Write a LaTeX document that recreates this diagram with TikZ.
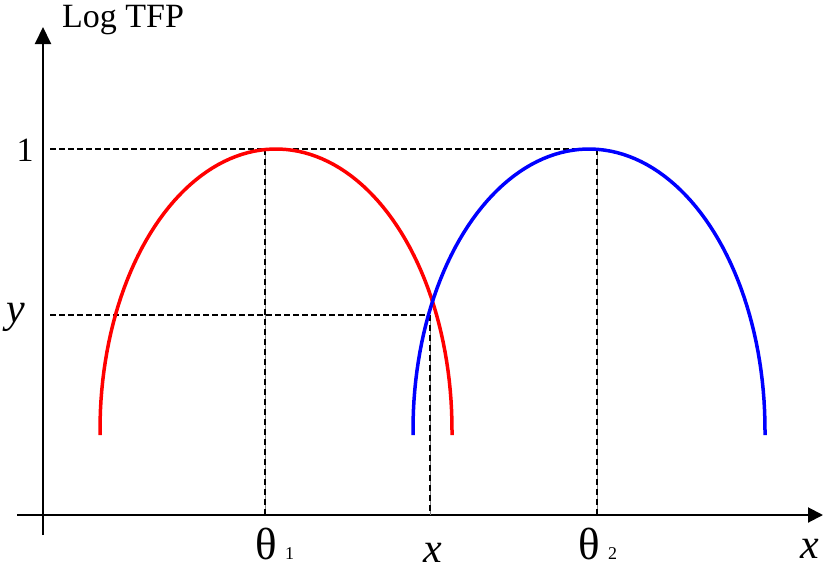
\documentclass[tikz,border=0pt]{standalone}
\usepackage{fontspec}
\setmainfont{Liberation Serif}
\usetikzlibrary{arrows.meta}
\begin{document}
\begin{tikzpicture}[x=1pt,y=-1pt,
  axis/.style={line width=2pt},
  guide/.style={line width=1.4pt,dash pattern=on 6pt off 3pt},
  vguide/.style={line width=1.2pt,dash pattern=on 6pt off 4pt},
  vgray/.style={line width=1pt,gray},
  curve/.style={line width=3.5pt,line join=round,line cap=butt},
  lab/.style={font=\fontsize{34}{34}\selectfont,inner sep=0pt},
  var/.style={font=\fontsize{42}{42}\selectfont\itshape,inner sep=0pt},
  greek/.style={font=\fontsize{45}{45}\selectfont,inner sep=0pt},
  sub/.style={font=\fontsize{18}{18}\selectfont,inner sep=0pt}]
\useasboundingbox (0,0) rectangle (823,571);
% axes
\coordinate (ybot) at (43,535);
\coordinate (ytop) at (43,27);
\coordinate (xleft) at (17,515);
\coordinate (xmid) at (133,515);
\coordinate (xright) at (823,515);
\draw[axis,-{Triangle[width=16pt,length=17pt]}] (ybot) -- (ytop);
\draw[line width=1.3pt] (xleft) -- (xmid);
\draw[axis,-{Triangle[width=15pt,length=15pt]}] (xmid) -- (xright);
% guides
\coordinate (g1l) at (50,149);
\coordinate (g1r) at (597,149);
\coordinate (gyl) at (50,315);
\coordinate (gyr) at (430,315);
\coordinate (t1top) at (265,149);
\coordinate (t1bot) at (265,515);
\coordinate (xtop) at (430,315);
\coordinate (xbot) at (430,515);
\coordinate (t2top) at (597,149);
\coordinate (t2bot) at (597,515);
\draw[vgray] (t1top) -- (t1bot);
\draw[vgray] (xtop) -- (xbot);
\draw[vgray] (t2top) -- (t2bot);
\draw[vguide] (t1top) -- (t1bot);
\draw[vguide] (xtop) -- (xbot);
\draw[vguide] (t2top) -- (t2bot);
\draw[guide] (g1l) -- (g1r);
\draw[guide] (gyl) -- (gyr);
% curves
\draw[curve,red] (100,435) -- plot[domain=180:0,samples=90] ({276+176*cos(\x)},{430-281*sin(\x)}) -- (452,435);
\draw[curve,blue] (413,435) -- plot[domain=180:0,samples=90] ({589+176*cos(\x)},{430-281*sin(\x)}) -- (765,435);
% labels
\node[lab,anchor=base west] (logtfp) at (62,27) {Log TFP};
\node[lab] (one) at (25,150) {1};
\node[var,anchor=base] (ylab) at (16,322) {y};
\node[greek,anchor=base] (th1) at (266,559) {θ};
\node[sub,anchor=base west] (s1) at ([xshift=8pt]th1.base east) {1};
\node[var,anchor=base] (xl) at (433,562) {x};
\node[greek,anchor=base] (th2) at (589,559) {θ};
\node[sub,anchor=base west] (s2) at ([xshift=8pt]th2.base east) {2};
\node[var,anchor=base] (xr) at (810,558) {x};
\end{tikzpicture}
\end{document}
